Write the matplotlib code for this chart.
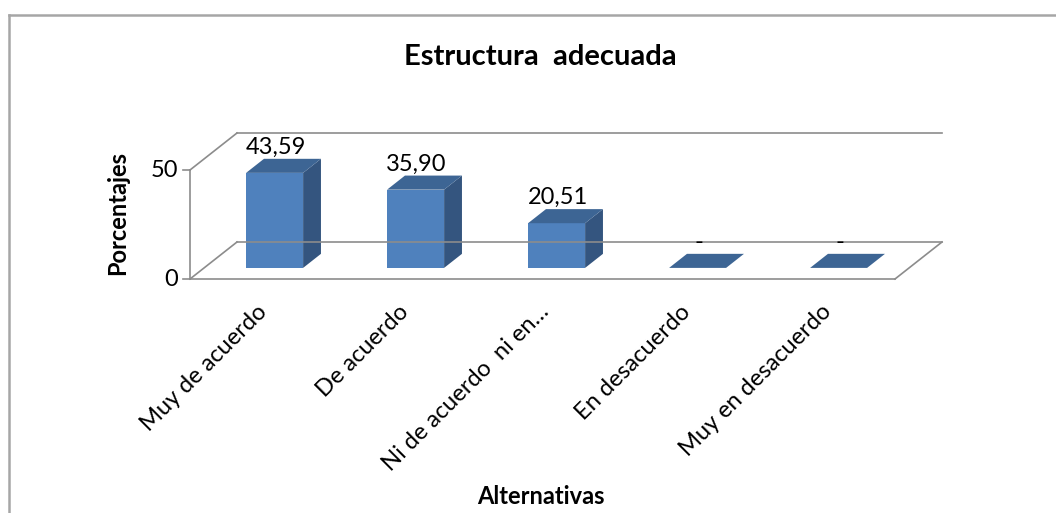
import matplotlib
matplotlib.use("Agg")
import matplotlib.pyplot as plt
from matplotlib.patches import Polygon
from matplotlib.lines import Line2D

# ---- data ----
categories = ["Muy de acuerdo", "De acuerdo", "Ni de acuerdo  ni en…",
              "En desacuerdo", "Muy en desacuerdo"]
values = [43.59, 35.90, 20.51, 0.0, 0.0]
value_labels = ["43,59", "35,90", "20,51", "-", "-"]
yticks = [0, 50]
title = "Estructura  adecuada"
xlabel = "Alternativas"
ylabel = "Porcentajes"

FONT = ["Lato", "DejaVu Sans"]
plt.rcParams["font.family"] = FONT

W, H = 1056, 513
fig = plt.figure(figsize=(W / 100, H / 100), dpi=100)

# front plane of the 3D box (pixels): x 190..895, value 0 at y=279, 50 at y=170
ax = fig.add_axes([190 / W, (H - 279) / H, 705 / W, 109 / H])
n = len(categories)
ax.set_xlim(-0.5, n - 0.5)
ax.set_ylim(0, 50)
ax.axis("off")

px_x = 705 / n          # pixels per category
px_y = 109 / 50         # pixels per value unit
DX = 47 / px_x          # depth offset in category units
DY = 37 / px_y          # depth offset in value units
f0, f1 = 0.30, 0.68     # bar depth range (fraction of full depth)
bw = 57 / px_x          # bar width

grid_c = "#8C8C8C"
lw = 1.2

# walls / floor
for v in yticks:
    ax.add_line(Line2D([-0.5 + DX, n - 0.5 + DX], [v + DY, v + DY], color=grid_c, lw=lw, clip_on=False))
    ax.add_line(Line2D([-0.5, -0.5 + DX], [v, v + DY], color=grid_c, lw=lw, clip_on=False))
    ax.add_line(Line2D([-0.5 - 7 / px_x, -0.5], [v, v], color=grid_c, lw=lw, clip_on=False))
    ax.text(-0.5 - 12 / px_x, v, str(v), ha="right", va="center", fontsize=17, clip_on=False)
ax.add_line(Line2D([-0.5, -0.5], [0, 50], color=grid_c, lw=lw, clip_on=False))
ax.add_line(Line2D([-0.5, n - 0.5], [0, 0], color=grid_c, lw=lw, clip_on=False))
ax.add_line(Line2D([n - 0.5, n - 0.5 + DX], [0, DY], color=grid_c, lw=lw, clip_on=False))

front_c = "#4F81BD"
top_c = "#3D6594"
side_c = "#34557F"

for i, (v, lab) in enumerate(zip(values, value_labels)):
    x0 = i - bw / 2 + f0 * DX
    x1 = i + bw / 2 + f0 * DX
    yb = f0 * DY
    ddx = (f1 - f0) * DX
    ddy = (f1 - f0) * DY
    top = yb + v
    if v > 0:
        ax.add_patch(Polygon([(x0, yb), (x1, yb), (x1, top), (x0, top)],
                             closed=True, fc=front_c, ec="none", clip_on=False))
        ax.add_patch(Polygon([(x1, yb), (x1 + ddx, yb + ddy), (x1 + ddx, top + ddy), (x1, top)],
                             closed=True, fc=side_c, ec="none", clip_on=False))
    ax.add_patch(Polygon([(x0, top), (x1, top), (x1 + ddx, top + ddy), (x0 + ddx, top + ddy)],
                         closed=True, fc=top_c, ec="none", clip_on=False))
    ax.text((x0 + x1) / 2 + 1 / px_x, top + ddy + 1 / px_y, lab, ha="center", va="bottom",
            fontsize=17, clip_on=False)

# category labels
for i, c in enumerate(categories):
    ax.text(i - 4 / px_x, -22 / px_y, c, rotation=45, rotation_mode="anchor",
            ha="right", va="top", fontsize=17, clip_on=False)

fig.text(540 / W, 1 - 57 / H, title, ha="center", va="center", fontsize=21, fontweight="bold")
fig.text(541 / W, 1 - 497 / H, xlabel, ha="center", va="center", fontsize=17, fontweight="bold")
fig.text(118 / W, 1 - 213 / H, ylabel, ha="center", va="center", rotation=90,
         fontsize=17, fontweight="bold")

# outer chart border
fig.add_artist(Line2D([9 / W, 9 / W], [1 - 15 / H, 0], color="#A6A6A6", lw=1.8))
fig.add_artist(Line2D([9 / W, 1], [1 - 15 / H, 1 - 15 / H], color="#A6A6A6", lw=1.8))

fig.savefig("out.png", dpi=100, facecolor="white")
